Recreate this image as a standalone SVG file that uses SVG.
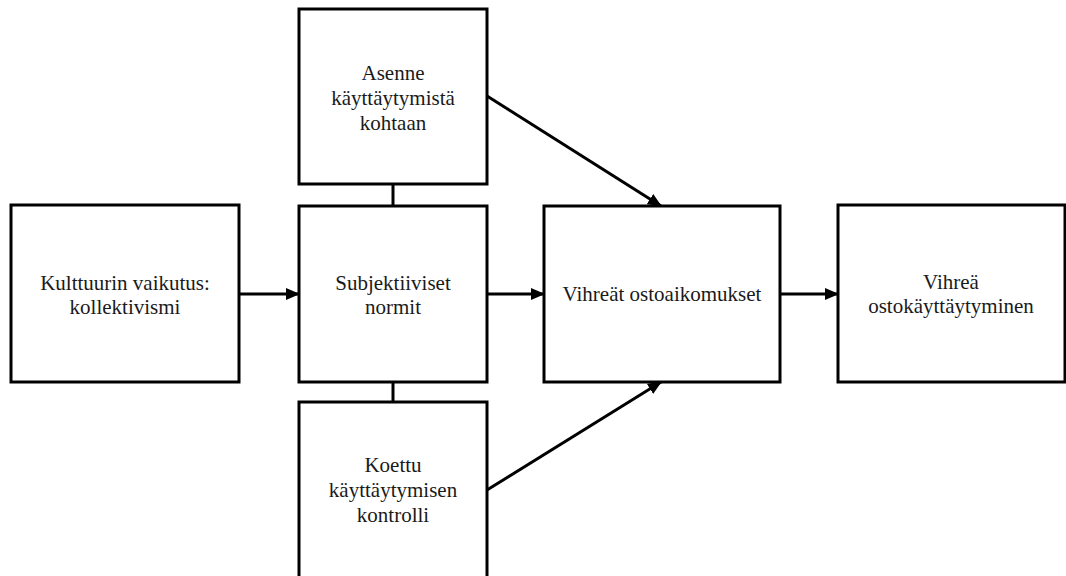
<svg xmlns="http://www.w3.org/2000/svg" width="1066" height="576" viewBox="0 0 1066 576">
<style>
.box{fill:#fff;stroke:#000;stroke-width:3}
.t{font-family:'Liberation Serif','Times New Roman',Tinos,'DejaVu Serif',serif;font-size:21px;fill:#1a1a1a;text-anchor:middle}
.c{stroke:#000;stroke-width:3;fill:none}
</style>
<defs>
<marker id="ah" markerUnits="userSpaceOnUse" markerWidth="14" markerHeight="12" refX="13" refY="6" orient="auto">
<path d="M0,0 L14,6 L0,12 z" fill="#000"/>
</marker>
</defs>
<rect width="1066" height="576" fill="#fff"/>
<g id="connectors">
<line class="c" x1="393" y1="184" x2="393" y2="206"/>
<line class="c" x1="393" y1="382" x2="393" y2="402"/>
<line class="c" x1="239" y1="294" x2="299" y2="294" marker-end="url(#ah)"/>
<line class="c" x1="487" y1="294" x2="544" y2="294" marker-end="url(#ah)"/>
<line class="c" x1="780" y1="294" x2="838" y2="294" marker-end="url(#ah)"/>
<line class="c" x1="487" y1="96" x2="661" y2="206" marker-end="url(#ah)"/>
<line class="c" x1="487" y1="490" x2="661" y2="382" marker-end="url(#ah)"/>
</g>
<g id="asenne">
<rect class="box" x="299" y="9" width="188" height="175"/>
<text class="t" x="393" y="80">Asenne</text>
<text class="t" x="393" y="105">käyttäytymistä</text>
<text class="t" x="393" y="130">kohtaan</text>
</g>
<g id="kulttuuri">
<rect class="box" x="11" y="205" width="228" height="177"/>
<text class="t" x="125" y="290">Kulttuurin vaikutus:</text>
<text class="t" x="125" y="314">kollektivismi</text>
</g>
<g id="normit">
<rect class="box" x="299" y="206" width="188" height="176"/>
<text class="t" x="393" y="290">Subjektiiviset</text>
<text class="t" x="393" y="314">normit</text>
</g>
<g id="kontrolli">
<rect class="box" x="299" y="402" width="188" height="185"/>
<text class="t" x="393" y="472">Koettu</text>
<text class="t" x="393" y="497">käyttäytymisen</text>
<text class="t" x="393" y="522">kontrolli</text>
</g>
<g id="aikomukset">
<rect class="box" x="544" y="206" width="236" height="176"/>
<text class="t" x="662" y="301">Vihreät ostoaikomukset</text>
</g>
<g id="kayttaytyminen">
<rect class="box" x="838" y="205" width="227" height="177"/>
<text class="t" x="951" y="289">Vihreä</text>
<text class="t" x="951" y="313">ostokäyttäytyminen</text>
</g>
</svg>
